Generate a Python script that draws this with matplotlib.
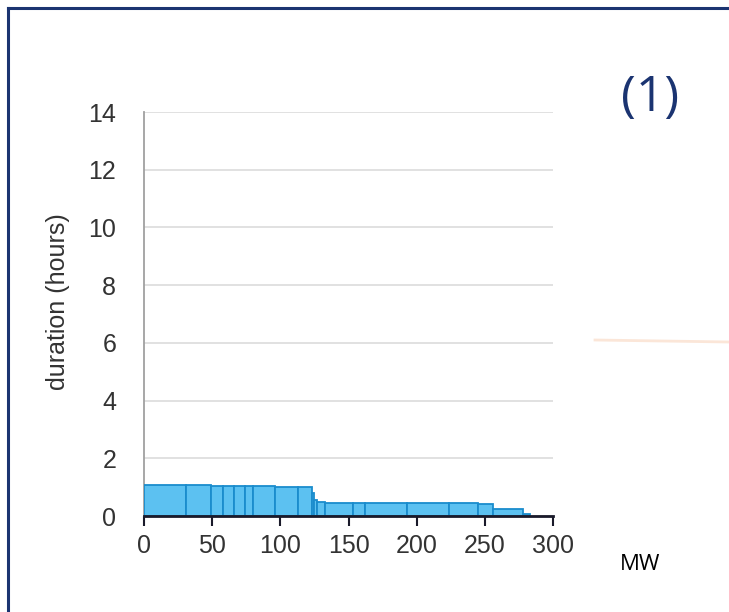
import numpy as np
import matplotlib
matplotlib.use("Agg")
import matplotlib.pyplot as plt

# storage units sorted by duration: power (MW) and duration (hours)
unit_mw = [31, 18, 9, 8, 8, 6, 16, 17, 10, 2, 2, 6, 20, 9, 31, 31, 21, 11, 22, 5]
unit_hours = [1.07, 1.06, 1.05, 1.05, 1.04, 1.04, 1.03, 1.02, 1.00, 0.80,
              0.55, 0.47, 0.46, 0.46, 0.45, 0.45, 0.44, 0.42, 0.25, 0.08]
x_ticks = [0, 50, 100, 150, 200, 250, 300]
y_ticks = [0, 2, 4, 6, 8, 10, 12, 14]

navy = '#1b3471'

fig = plt.figure(figsize=(7.29, 6.12), dpi=100)
fig.patch.set_facecolor('white')

# outer frame (runs off right and bottom edges)
fig.add_artist(plt.Line2D([8/729, 8/729], [0, 1 - 8/612], color=navy, lw=2.2))
fig.add_artist(plt.Line2D([8/729, 1], [1 - 8/612, 1 - 8/612], color=navy, lw=2.2))
# faint peach stroke from the slide
fig.add_artist(plt.Line2D([595/729, 1], [1 - 340/612, 1 - 342/612], color='#fbe6d8', lw=2))

ax = fig.add_axes([144/729, 1 - 516/612, (553 - 144)/729, (516 - 112)/612])

left = np.concatenate([[0], np.cumsum(unit_mw)[:-1]])
ax.bar(left, unit_hours, width=unit_mw, align='edge', color='#5cc1f1',
       edgecolor='#1a8ccd', linewidth=1.3, zorder=3)

ax.set_xlim(0, 300)
ax.set_ylim(0, 14)
ax.set_xticks(x_ticks)
ax.set_yticks(y_ticks)
ax.yaxis.grid(True, color='#dcdcdc', lw=1.2)
ax.set_axisbelow(True)

for s in ['top', 'right']:
    ax.spines[s].set_visible(False)
ax.spines['left'].set_color('#a0a0a0')
ax.spines['left'].set_linewidth(1.3)
ax.spines['bottom'].set_color('#1a1a2a')
ax.spines['bottom'].set_linewidth(2)
ax.spines['bottom'].set_zorder(4)

ax.tick_params(axis='y', length=0, pad=20, labelsize=18, labelcolor='#333333')
ax.tick_params(axis='x', length=7, width=1.5, color='#1a1a2a', direction='out',
               pad=6, labelsize=18, labelcolor='#333333')
for lab in ax.get_xticklabels() + ax.get_yticklabels():
    lab.set_family('Liberation Sans')

ax.set_ylabel('duration (hours)', fontsize=18, color='#333333',
              family='Liberation Sans')
ax.yaxis.set_label_coords(-0.18, 0.53)

fig.text(650/729, 1 - 98/612, '(1)', fontsize=36, color=navy,
         family='Open Sans', ha='center', va='center')
fig.text(640/729, 1 - 565/612, 'MW', fontsize=16, color='black',
         family='Open Sans', ha='center', va='center')

fig.savefig('out.png', dpi=100)
